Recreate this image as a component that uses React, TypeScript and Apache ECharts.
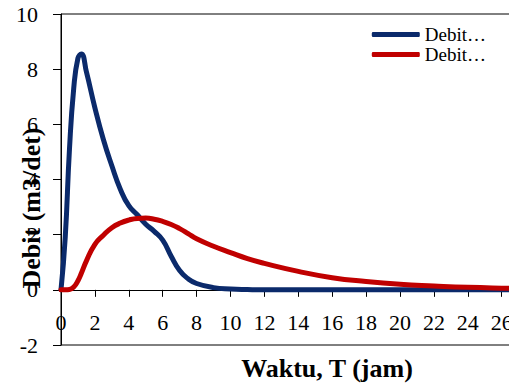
import React, { useEffect, useRef } from "react";
import * as echarts from "echarts";

const timeHours = [0, 0.25, 0.5, 0.75, 1.0, 1.2, 1.5, 2, 2.5, 3, 3.5, 4, 4.5, 5, 5.5, 6, 6.5, 7, 7.5, 8, 9, 10, 11, 12, 14, 16, 18, 20, 22, 24, 26, 28];
const debitBlue = [0, 1.9, 5.1, 7.3, 8.4, 8.55, 7.9, 6.6, 5.45, 4.5, 3.65, 3.05, 2.72, 2.38, 2.12, 1.8, 1.22, 0.7, 0.4, 0.23, 0.08, 0.03, 0.01, 0, 0, 0, 0, 0, 0, 0, 0, 0];
const debitRed = [0, 0, 0.01, 0.1, 0.33, 0.6, 1.05, 1.65, 1.98, 2.25, 2.42, 2.53, 2.59, 2.6, 2.56, 2.48, 2.37, 2.22, 2.04, 1.85, 1.58, 1.35, 1.13, 0.96, 0.67, 0.44, 0.3, 0.2, 0.14, 0.09, 0.06, 0.04];
const seriesNames = ["Debit…", "Debit…\u200b"];
const xTitle = "Waktu, T (jam)";
const yTitle = "Debit (m3/det)";

const FONT = "'Liberation Serif', 'Times New Roman', serif";

export default function App() {
  const ref = useRef<HTMLDivElement>(null);
  useEffect(() => {
    if (!ref.current) return;
    const chart = echarts.init(ref.current, null, { renderer: "svg" });
    const toPairs = (ys: number[]) => timeHours.map((t, i) => [t, ys[i]]);
    chart.setOption({
      animation: false,
      backgroundColor: "#ffffff",
      grid: {
        left: 61,
        top: 14,
        bottom: 38,
        right: -26.6,
        show: true,
        borderColor: "#000",
        borderWidth: 1,
        containLabel: false,
        outerBoundsMode: "none",
      },
      legend: {
        orient: "vertical",
        right: 18,
        top: 20,
        itemGap: 1,
        itemWidth: 48,
        itemHeight: 5,
        icon: "roundRect",
        textStyle: { fontFamily: FONT, fontSize: 19, lineHeight: 16, color: "#000" },
        data: seriesNames,
      },
      xAxis: {
        type: "value",
        min: 0,
        max: 28,
        interval: 2,
        axisLine: { onZero: true, lineStyle: { color: "#000", width: 1 } },
        axisTick: { show: true, length: 7, lineStyle: { color: "#000" } },
        axisLabel: { fontFamily: FONT, fontSize: 22, color: "#000", margin: -34 },
        splitLine: { show: false },
      },
      yAxis: {
        type: "value",
        min: -2,
        max: 10,
        interval: 2,
        axisLine: { show: true, lineStyle: { color: "#000", width: 1 } },
        axisTick: { show: true, length: 8, lineStyle: { color: "#000" } },
        axisLabel: { fontFamily: FONT, fontSize: 22, color: "#000", margin: 23 },
        splitLine: { show: false },
      },
      graphic: [
        {
          type: "text",
          x: 31,
          y: 208,
          rotation: Math.PI / 2,
          style: {
            text: yTitle,
            fontFamily: FONT,
            fontSize: 26,
            fontWeight: "bold",
            fill: "#000",
            align: "center",
            verticalAlign: "middle",
          },
        },
        {
          type: "text",
          x: 327,
          y: 368,
          style: {
            text: xTitle,
            fontFamily: FONT,
            fontSize: 26,
            fontWeight: "bold",
            fill: "#000",
            align: "center",
            verticalAlign: "middle",
          },
        },
      ],
      series: [
        {
          name: seriesNames[0],
          type: "line",
          data: toPairs(debitBlue),
          smooth: 0.5,
          showSymbol: false,
          lineStyle: { color: "#0B2A6B", width: 5, cap: "round", join: "round" },
          itemStyle: { color: "#0B2A6B" },
        },
        {
          name: seriesNames[1],
          type: "line",
          data: toPairs(debitRed),
          smooth: 0.5,
          showSymbol: false,
          lineStyle: { color: "#C00000", width: 5, cap: "round", join: "round" },
          itemStyle: { color: "#C00000" },
        },
      ],
    });
    return () => chart.dispose();
  }, []);
  return (
    <div
      ref={ref}
      style={{ position: "fixed", left: 0, top: 0, width: 509, height: 383, background: "#fff" }}
    />
  );
}
